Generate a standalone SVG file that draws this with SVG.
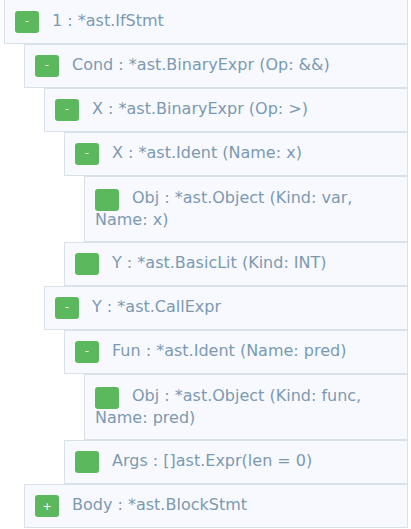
<svg xmlns="http://www.w3.org/2000/svg" width="411" height="529" viewBox="0 0 411 529">
<style>
.box{fill:#f8f9fe;stroke:#d9e1ea;stroke-width:1}
.btn{fill:#5cb85c}
.lbl{font-family:"DejaVu Sans",sans-serif;font-size:16px;fill:#7b9ab2}
.sym{font-family:"DejaVu Sans",sans-serif;font-size:11px;fill:#ffffff;text-anchor:middle}
</style>
<rect width="411" height="529" fill="#ffffff"/>
<g id="node-ifstmt">
<rect class="box" x="4.5" y="-1.5" width="403" height="45"/>
<rect class="btn" x="15" y="11" width="24" height="22" rx="3"/>
<text class="sym" x="27" y="24">-</text>
<text class="lbl" x="52" y="26">1 : *ast.IfStmt</text>
</g>
<g id="node-cond">
<rect class="box" x="24.5" y="44.5" width="383" height="43"/>
<rect class="btn" x="35" y="55" width="24" height="22" rx="3"/>
<text class="sym" x="47" y="68">-</text>
<text class="lbl" x="72" y="70">Cond : *ast.BinaryExpr (Op: &amp;&amp;)</text>
</g>
<g id="node-x-binary">
<rect class="box" x="44.5" y="88.5" width="363" height="43"/>
<rect class="btn" x="55" y="99" width="24" height="22" rx="3"/>
<text class="sym" x="67" y="112">-</text>
<text class="lbl" x="92" y="114">X : *ast.BinaryExpr (Op: &gt;)</text>
</g>
<g id="node-x-ident">
<rect class="box" x="64.5" y="132.5" width="343" height="43"/>
<rect class="btn" x="75" y="143" width="24" height="22" rx="3"/>
<text class="sym" x="87" y="156">-</text>
<text class="lbl" x="112" y="158">X : *ast.Ident (Name: x)</text>
</g>
<g id="node-obj-var">
<rect class="box" x="84.5" y="176.5" width="323" height="65"/>
<rect class="btn" x="95" y="189" width="24" height="22" rx="3"/>
<text class="lbl" x="132" y="203">Obj : *ast.Object (Kind: var,</text>
<text class="lbl" x="95" y="225">Name: x)</text>
</g>
<g id="node-y-basiclit">
<rect class="box" x="64.5" y="242.5" width="343" height="43"/>
<rect class="btn" x="75" y="253" width="24" height="22" rx="3"/>
<text class="lbl" x="112" y="268">Y : *ast.BasicLit (Kind: INT)</text>
</g>
<g id="node-y-callexpr">
<rect class="box" x="44.5" y="286.5" width="363" height="43"/>
<rect class="btn" x="55" y="297" width="24" height="22" rx="3"/>
<text class="sym" x="67" y="310">-</text>
<text class="lbl" x="92" y="312">Y : *ast.CallExpr</text>
</g>
<g id="node-fun">
<rect class="box" x="64.5" y="330.5" width="343" height="43"/>
<rect class="btn" x="75" y="341" width="24" height="22" rx="3"/>
<text class="sym" x="87" y="354">-</text>
<text class="lbl" x="112" y="356">Fun : *ast.Ident (Name: pred)</text>
</g>
<g id="node-obj-func">
<rect class="box" x="84.5" y="374.5" width="323" height="65"/>
<rect class="btn" x="95" y="387" width="24" height="22" rx="3"/>
<text class="lbl" x="132" y="401">Obj : *ast.Object (Kind: func,</text>
<text class="lbl" x="95" y="423">Name: pred)</text>
</g>
<g id="node-args">
<rect class="box" x="64.5" y="440.5" width="343" height="43"/>
<rect class="btn" x="75" y="451" width="24" height="22" rx="3"/>
<text class="lbl" x="112" y="466">Args : []ast.Expr(len = 0)</text>
</g>
<g id="node-body">
<rect class="box" x="24.5" y="484.5" width="383" height="43"/>
<rect class="btn" x="35" y="495" width="24" height="22" rx="3"/>
<text class="sym" x="47" y="510">+</text>
<text class="lbl" x="72" y="510">Body : *ast.BlockStmt</text>
</g>
<g id="connectors"/>
</svg>
